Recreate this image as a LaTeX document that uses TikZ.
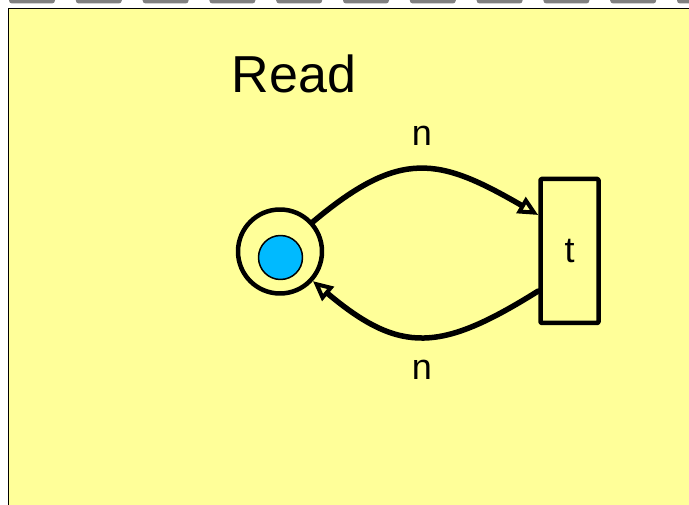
\documentclass[tikz,border=0pt]{standalone}
\usepackage{fontspec}
\setmainfont{Liberation Sans}
\usetikzlibrary{arrows.meta}
\definecolor{slideyellow}{RGB}{255,255,153}
\definecolor{tokenblue}{RGB}{0,186,255}
\definecolor{tabgray}{RGB}{128,128,128}
\tikzset{
  place/.style={circle,draw,line width=4.5pt,minimum size=84pt,inner sep=0pt},
  token/.style={circle,draw,line width=1.5pt,fill=tokenblue,minimum size=44pt,inner sep=0pt},
  trans/.style={rectangle,draw,line width=4.5pt,minimum width=58pt,minimum height=144pt,inner sep=0pt,rounded corners=1pt},
  arc/.style={line width=5.5pt,-{Triangle[open,length=20pt,width=18pt,line width=4pt]}},
  lbl/.style={font=\fontsize{36}{40}\selectfont,inner sep=0pt}
}
\begin{document}
\begin{tikzpicture}[x=1pt,y=-1pt,line cap=round,line join=round]
  \useasboundingbox (0,0) rectangle (689,505);
  \clip (0,0) rectangle (689,505);
  \fill[white] (0,0) rectangle (689,505);
  \foreach \i in {0,...,10} {\fill[tabgray,rounded corners=3pt] ({9+66.8*\i},-6) rectangle ++(46,9.5);}
  \draw[fill=slideyellow,line width=1.8pt] (8.5,8.5) rectangle (700,520);
  \node[font=\fontsize{52}{56}\selectfont,inner sep=0pt] (title) at (294,74) {Read};
  \node[place] (p) at (280,251.5) {};
  \node[token] (tok) at (280.5,257.5) {};
  \node[trans] (t) at (569.5,251) {};
  \node[lbl] (tl) at (t.center) {t};
  \coordinate (tin) at ([yshift=36]t.west);
  \coordinate (tout) at ([yshift=-40]t.west);
  \draw[arc] (p.42) to[out=40,in=150,looseness=1.3] (tin);
  \draw[arc] (tout) to[out=212,in=-40,looseness=1.3] (p.-42);
  \node[lbl] (n1) at (422,136) {n};
  \node[lbl] (n2) at (422,370) {n};
\end{tikzpicture}
\end{document}
